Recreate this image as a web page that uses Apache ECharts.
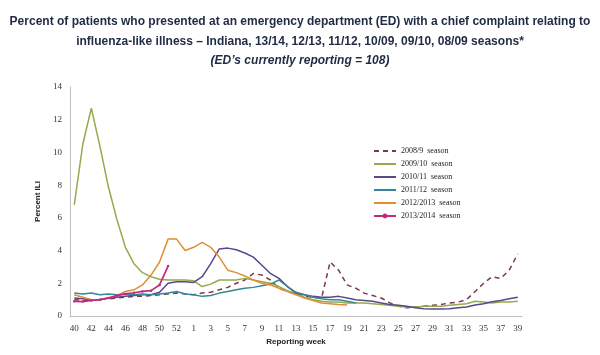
<!DOCTYPE html>
<html>
<head>
<meta charset="utf-8">
<script src="https://cdn.jsdelivr.net/npm/echarts@6/dist/echarts.min.js"></script>
<style>html,body{margin:0;padding:0;background:#fff}#c{width:600px;height:355px}</style>
</head>
<body>
<div id="c"></div>
<script>
var weeks = ['40','41','42','43','44','45','46','47','48','49','50','51','52','53',
  '1','2','3','4','5','6','7','8','9','10','11','12','13','14','15','16','17','18','19','20',
  '21','22','23','24','25','26','27','28','29','30','31','32','33','34','35','36','37','38','39'];

var season0809 = [1.0,0.95,1.0,1.0,1.05,1.1,1.15,1.2,1.2,1.25,1.3,1.35,1.4,1.35,
  1.3,1.4,1.45,1.6,1.75,2.0,2.2,2.6,2.5,2.2,1.7,1.5,1.35,
  1.2,1.15,1.1,3.3,2.8,1.9,1.7,1.4,1.25,1.1,0.8,0.6,0.5,
  0.55,0.6,0.65,0.7,0.8,0.85,1.0,1.5,2.0,2.4,2.3,2.8,3.8];

var season0910 = [6.8,10.5,12.7,10.4,7.9,5.9,4.2,3.2,2.65,2.4,2.25,2.2,2.2,2.2,
  2.15,1.8,1.95,2.2,2.2,2.2,2.3,2.2,2.1,2.0,1.8,1.55,1.35,
  1.15,1.0,0.9,0.85,0.85,0.8,0.8,0.8,0.75,0.7,0.65,0.6,0.55,
  0.55,0.6,0.6,0.6,0.65,0.7,0.75,0.9,0.85,0.8,0.85,0.85,0.9];

var season1011 = [1.1,1.05,1.0,1.0,1.1,1.15,1.2,1.25,1.3,1.3,1.45,2.0,2.1,2.1,
  2.05,2.4,3.2,4.1,4.15,4.05,3.85,3.6,3.1,2.6,2.3,1.8,1.4,
  1.3,1.2,1.15,1.15,1.2,1.1,1.0,0.95,0.9,0.8,0.7,0.65,0.6,
  0.5,0.45,0.43,0.43,0.45,0.5,0.55,0.67,0.75,0.87,0.95,1.05,1.15];

var season1112 = [1.4,1.35,1.4,1.3,1.35,1.3,1.35,1.3,1.35,1.3,1.35,1.4,1.5,1.35,
  1.3,1.2,1.25,1.4,1.5,1.6,1.7,1.75,1.85,1.95,2.2,1.8,1.45,
  1.3,1.15,1.05,1.0,1.0,0.9,0.8];

var season1213 = [1.3,1.15,1.0,1.0,1.1,1.25,1.5,1.6,1.9,2.5,3.3,4.7,4.7,4.0,
  4.2,4.5,4.2,3.6,2.8,2.65,2.45,2.2,2.0,1.9,1.7,1.5,1.3,
  1.1,0.95,0.8,0.75,0.7,0.67];

var season1314 = [0.9,0.88,0.95,1.0,1.1,1.25,1.35,1.42,1.5,1.55,1.9,3.05];

var seasonNames = ['2008/9  season','2009/10  season','2010/11  season','2011/12  season','2012/2013  season','2013/2014  season'];
var yTicks = [0,2,4,6,8,10,12,14];

var chart = echarts.init(document.getElementById('c'));
var tickFont = 'Liberation Serif, DejaVu Serif, serif';
var sansFont = 'Liberation Sans, Arial, sans-serif';
var titleColor = '#1F2A44';
function line(name, data, color, extra) {
  var s = {
    name: name, type: 'line', data: data, symbol: 'none', smooth: false,
    lineStyle: {color: color, width: 1.5}, itemStyle: {color: color}, z: 2
  };
  for (var k in extra) s[k] = extra[k];
  return s;
}
var legendData = seasonNames.map(function (n, i) {
  return i === 5 ? {name: n} : {name: n, itemStyle: {opacity: 0}};
});
chart.setOption({
  animation: false,
  backgroundColor: '#fff',
  title: [
    {text: 'Percent of patients who presented at an emergency department (ED) with a chief complaint relating to',
     left: 'center', top: 11, textStyle: {fontSize: 12, fontWeight: 'bold', color: titleColor, fontFamily: sansFont}},
    {text: 'influenza-like illness \u2013 Indiana, 13/14, 12/13, 11/12, 10/09, 09/10, 08/09 seasons*',
     left: 'center', top: 31, textStyle: {fontSize: 12, fontWeight: 'bold', color: titleColor, fontFamily: sansFont}},
    {text: '(ED\u2019s currently reporting = 108)',
     left: 'center', top: 50, textStyle: {fontSize: 12, fontWeight: 'bold', fontStyle: 'italic', color: titleColor, fontFamily: sansFont}}
  ],
  legend: {
    orient: 'vertical', left: 368, top: 142, itemGap: 5, itemWidth: 22, itemHeight: 6,
    data: legendData,
    textStyle: {fontSize: 8, color: '#222', fontFamily: tickFont}
  },
  grid: {left: 70, right: 78, top: 87, bottom: 39},
  xAxis: {
    type: 'category', data: weeks, boundaryGap: true,
    name: 'Reporting week', nameLocation: 'middle', nameGap: 22,
    nameTextStyle: {fontSize: 8, fontWeight: 'bold', color: '#222', fontFamily: sansFont},
    axisLine: {lineStyle: {color: '#BFBFBF'}},
    axisTick: {show: false},
    axisLabel: {interval: 1, fontSize: 9, color: '#333', fontFamily: tickFont, margin: 8},
    splitLine: {show: false}
  },
  yAxis: {
    type: 'value', min: yTicks[0], max: yTicks[yTicks.length-1], interval: 2,
    name: 'Percent ILI', nameLocation: 'middle', nameGap: 22, nameRotate: 90,
    nameTextStyle: {fontSize: 8, fontWeight: 'bold', color: '#222', fontFamily: sansFont},
    axisLine: {show: true, lineStyle: {color: '#BFBFBF'}},
    axisTick: {show: false},
    axisLabel: {fontSize: 9, color: '#333', fontFamily: tickFont, margin: 8},
    splitLine: {show: false}
  },
  series: [
    line(seasonNames[0], season0809, '#7B3946', {lineStyle: {color: '#7B3946', width: 1.5, type: [5, 4]}}),
    line(seasonNames[1], season0910, '#93AB4B'),
    line(seasonNames[2], season1011, '#57498A'),
    line(seasonNames[3], season1112, '#33879B'),
    line(seasonNames[4], season1213, '#E08E35'),
    line(seasonNames[5], season1314, '#BF2C7C', {symbol: 'circle', symbolSize: 2.5, showSymbol: true, lineStyle: {color: '#BF2C7C', width: 1.7}})
  ]
});
</script>
</body>
</html>
